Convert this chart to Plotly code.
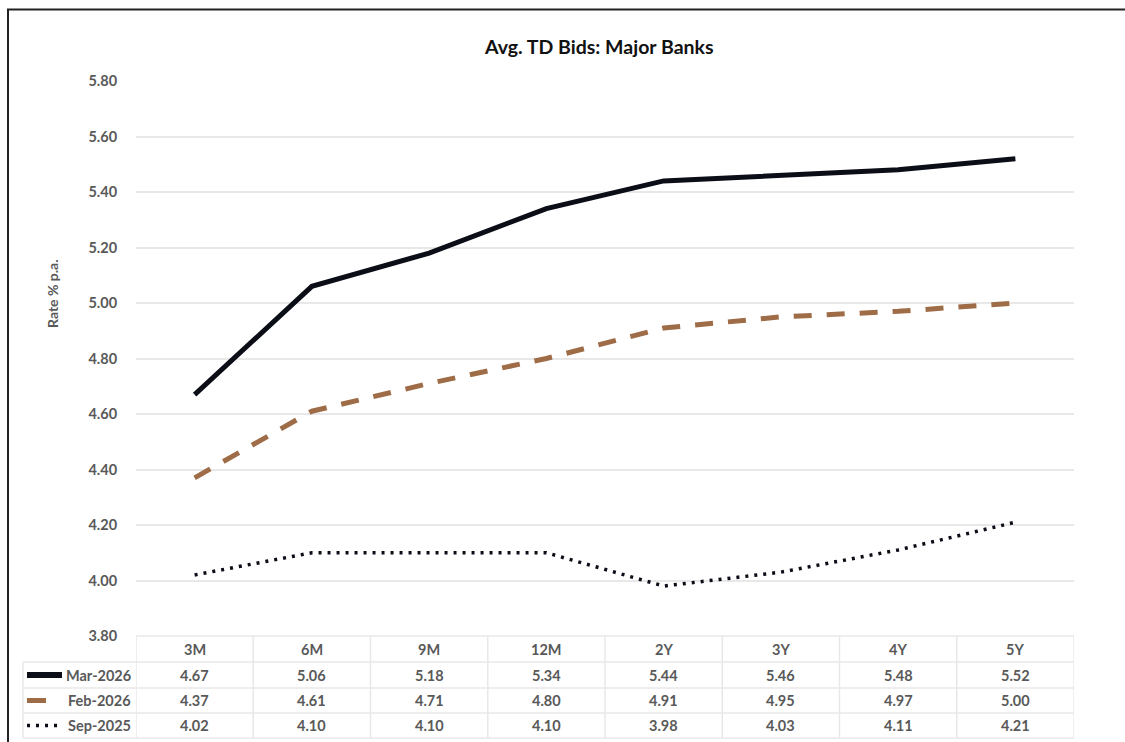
import plotly.graph_objects as go

# ---- data ----
tenors = ["3M", "6M", "9M", "12M", "2Y", "3Y", "4Y", "5Y"]
series_names = ["Mar-2026", "Feb-2026", "Sep-2025"]
mar_2026 = [4.67, 5.06, 5.18, 5.34, 5.44, 5.46, 5.48, 5.52]
feb_2026 = [4.37, 4.61, 4.71, 4.80, 4.91, 4.95, 4.97, 5.00]
sep_2025 = [4.02, 4.10, 4.10, 4.10, 3.98, 4.03, 4.11, 4.21]
y_ticks = [3.80, 4.00, 4.20, 4.40, 4.60, 4.80, 5.00, 5.20, 5.40, 5.60, 5.80]

W, H = 1125, 742
L, R, T, B = 136, 51, 81, 106
PW = W - L - R
PH = H - T - B
FONT = "Lato"
GRAY = "#595959"
GRID = "#e8e8e8"
TXT = dict(family=FONT, size=14.5, color=GRAY, weight="bold")

def px_x(px):
    return (px - L) / PW

def px_y(py):
    return (H - B - py) / PH

styles = [
    dict(color="#0b0d17", width=5, dash="solid"),
    dict(color="#9e6c47", width=5, dash="18px,15px"),
    dict(color="#0b0d17", width=3.5, dash="3px,6px"),
]
values = [mar_2026, feb_2026, sep_2025]

fig = go.Figure()
for name, vals, st in zip(series_names, values, styles):
    fig.add_trace(go.Scatter(x=tenors, y=vals, mode="lines", name=name,
                             line=st, showlegend=False))

shapes = []
annotations = []

# table: horizontal lines
row_lines_px = [662, 688, 713, 738]
shapes.append(dict(type="line", xref="x", yref="paper", x0=-0.5, x1=len(tenors) - 0.5,
                   y0=px_y(636), y1=px_y(636), line=dict(color=GRID, width=1.5)))
for py in row_lines_px:
    shapes.append(dict(type="line", xref="paper", yref="paper", x0=px_x(23), x1=1,
                       y0=px_y(py), y1=px_y(py), line=dict(color=GRID, width=1.5)))
for i in range(len(tenors) + 1):
    shapes.append(dict(type="line", xref="x", yref="paper", x0=i - 0.5, x1=i - 0.5,
                       y0=px_y(636), y1=px_y(738), line=dict(color=GRID, width=1.5)))
shapes.append(dict(type="line", xref="paper", yref="paper", x0=px_x(23), x1=px_x(23),
                   y0=px_y(662), y1=px_y(738), line=dict(color=GRID, width=1.5)))

# header text
for i, t in enumerate(tenors):
    annotations.append(dict(x=t, xref="x", y=px_y(649), yref="paper", text=t,
                            showarrow=False, font=TXT,
                            xanchor="center", yanchor="middle"))
# value rows
row_centers = [675, 700.5, 725.5]
sample_ends = [62, 46, 58]
for name, vals, st, cy, se in zip(series_names, values, styles, row_centers, sample_ends):
    for t, v in zip(tenors, vals):
        annotations.append(dict(x=t, xref="x", y=px_y(cy), yref="paper", text=f"{v:.2f}",
                                showarrow=False, font=TXT,
                                xanchor="center", yanchor="middle"))
    annotations.append(dict(x=px_x(133), xref="paper", y=px_y(cy), yref="paper", text=name,
                            showarrow=False, font=TXT,
                            xanchor="right", yanchor="middle"))
    shapes.append(dict(type="line", xref="paper", yref="paper", x0=px_x(27), x1=px_x(se),
                       y0=px_y(cy), y1=px_y(cy),
                       line=dict(color=st["color"], width=st["width"] + (1 if st["dash"] == "solid" else 0),
                                 dash="solid" if st["dash"] != "3px,6px" else "3px,6px")))

# title & axis title
annotations.append(dict(x=px_x(599), xref="paper", y=px_y(47), yref="paper",
                        text="Avg. TD Bids: Major Banks", showarrow=False,
                        font=dict(family=FONT, size=19.5, color="#111111", weight="bold"),
                        xanchor="center", yanchor="middle"))
annotations.append(dict(x=px_x(52), xref="paper", y=px_y(294), yref="paper",
                        text="Rate % p.a.", showarrow=False, textangle=-90,
                        font=dict(family=FONT, size=14, color=GRAY, weight="bold"),
                        xanchor="center", yanchor="middle"))

# outer frame
shapes.append(dict(type="rect", xref="paper", yref="paper", x0=px_x(8), x1=px_x(1140),
                   y0=px_y(760), y1=px_y(9.5), line=dict(color="#222222", width=2),
                   fillcolor="rgba(0,0,0,0)", layer="above"))

fig.update_layout(
    width=W, height=H, autosize=False,
    margin=dict(l=L, r=R, t=T, b=B),
    paper_bgcolor="white", plot_bgcolor="white",
    shapes=shapes, annotations=annotations,
    xaxis=dict(type="category", range=[-0.5, len(tenors) - 0.5], showticklabels=False,
               showgrid=False, zeroline=False, showline=False, ticks="", automargin=False),
    yaxis=dict(range=[3.8, 5.8], tickvals=y_ticks, ticktext=[f"{v:.2f}" for v in y_ticks],
               showgrid=True, gridcolor=GRID, gridwidth=1.5, zeroline=False, showline=False,
               ticks="outside", ticklen=15, tickcolor="rgba(0,0,0,0)",
               tickfont=TXT, automargin=False),
    font=dict(family=FONT, color=GRAY),
)

fig.write_html("out.html")
